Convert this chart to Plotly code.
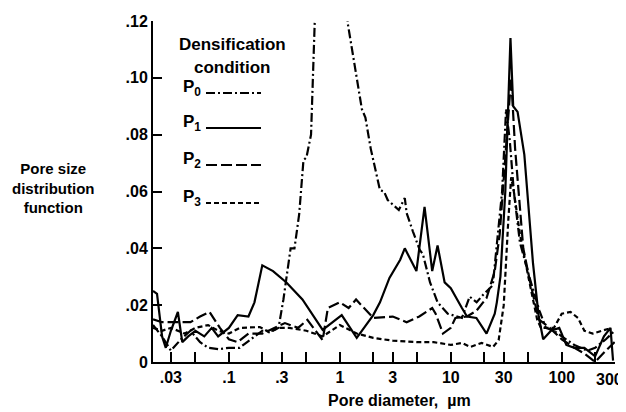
import plotly.graph_objects as go
import math

# ---------------- data ----------------
p0_x = [0.0207, 0.025, 0.03, 0.037, 0.045, 0.055, 0.065, 0.08, 0.1, 0.125, 0.14, 0.17, 0.2, 0.25, 0.28, 0.31,
        0.36, 0.39, 0.43, 0.47, 0.5, 0.55, 0.6, 0.8, 1.0, 1.18, 1.58, 1.7, 1.9, 2.3, 2.5, 2.7, 3.4, 3.85, 4.0, 4.55,
        5.25, 5.6, 6.5, 7.6, 9.4, 12.6, 14.8, 17.1, 19.4, 23.9, 26.5, 29.0, 31.5, 34.0, 37.0, 42.0, 51.0, 63.0,
        72.0, 85.0, 100.0, 130.0, 170.0, 200.0, 250.0, 300.0]
p0_y = [0.013, 0.009, 0.004, 0.008, 0.011, 0.007, 0.005, 0.0045, 0.005, 0.005, 0.0065, 0.009, 0.011, 0.011, 0.012, 0.022,
        0.040, 0.040, 0.052, 0.071, 0.072, 0.080, 0.125, 0.16, 0.15, 0.119, 0.089, 0.086, 0.075, 0.0605, 0.060, 0.057, 0.0535, 0.0577, 0.0524,
        0.046, 0.0394, 0.038, 0.028, 0.021, 0.017, 0.0155, 0.023, 0.021, 0.0235, 0.027, 0.045, 0.060, 0.089, 0.078, 0.060, 0.042, 0.030, 0.018,
        0.012, 0.011, 0.009, 0.006, 0.004, 0.005, 0.008, 0.011]

p1_x = [0.0207, 0.0225, 0.025, 0.027, 0.03, 0.0347, 0.038, 0.043, 0.05, 0.06, 0.07, 0.08, 0.1, 0.12, 0.15, 0.17, 0.2,
        0.25, 0.33, 0.46, 0.7, 1.04, 1.42, 2.0, 2.3, 2.8, 3.5, 3.85, 4.9, 5.8, 6.8, 7.6, 8.8, 10.0, 12.6, 14.0, 17.0,
        21.0, 24.9, 26.0, 28.0, 31.0, 34.5, 36.5, 40.0, 46.0, 55.0, 62.0, 68.0, 80.0, 95.0, 110.0, 130.0, 160.0, 200.0,
        240.0, 275.0, 290.0]
p1_y = [0.025, 0.024, 0.009, 0.005, 0.011, 0.0176, 0.007, 0.009, 0.011, 0.009, 0.012, 0.009, 0.012, 0.0165, 0.016, 0.021, 0.034,
        0.032, 0.028, 0.022, 0.0113, 0.0165, 0.0085, 0.0165, 0.021, 0.0296, 0.036, 0.040, 0.032, 0.0546, 0.032, 0.041, 0.028, 0.026, 0.019, 0.016, 0.0155,
        0.010, 0.017, 0.021, 0.030, 0.060, 0.114, 0.090, 0.088, 0.073, 0.035, 0.016, 0.008, 0.011, 0.012, 0.006, 0.005, 0.005, 0.002,
        0.009, 0.012, 0.0005]

p2_x = [0.0207, 0.025, 0.03, 0.04, 0.045, 0.055, 0.067, 0.083, 0.1, 0.12, 0.15, 0.2, 0.26, 0.32, 0.42, 0.51, 0.7, 0.78,
        1.0, 1.2, 1.4, 2.0, 3.0, 4.0, 5.2, 6.8, 7.3, 8.5, 10.0, 11.0, 14.0, 17.0, 21.0, 24.9, 27.6, 31.0, 33.5, 35.0,
        38.0, 45.0, 52.0, 62.0, 78.0, 100.0, 130.0, 160.0, 200.0, 250.0, 300.0]
p2_y = [0.015, 0.014, 0.014, 0.014, 0.014, 0.016, 0.0176, 0.012, 0.008, 0.007, 0.010, 0.010, 0.012, 0.0137, 0.012, 0.0148, 0.0077, 0.019,
        0.021, 0.019, 0.022, 0.0155, 0.016, 0.014, 0.016, 0.019, 0.017, 0.010, 0.012, 0.0155, 0.016, 0.018, 0.0225, 0.032, 0.045, 0.070, 0.090, 0.100,
        0.075, 0.040, 0.028, 0.015, 0.012, 0.008, 0.005, 0.003, 0.000, 0.004, 0.007]

p3_x = [0.0207, 0.025, 0.03, 0.04, 0.05, 0.065, 0.08, 0.1, 0.125, 0.19, 0.23, 0.28, 0.35, 0.5, 0.7, 1.0, 1.42, 2.0,
        3.0, 5.0, 7.0, 10.0, 12.6, 15.0, 19.0, 24.0, 27.0, 30.0, 33.0, 35.0, 37.0, 42.0, 50.0, 60.0, 65.0, 85.0, 100.0,
        120.0, 140.0, 160.0, 190.0, 230.0, 280.0]
p3_y = [0.012, 0.011, 0.012, 0.010, 0.012, 0.013, 0.011, 0.010, 0.012, 0.0123, 0.0105, 0.012, 0.012, 0.011, 0.009, 0.013, 0.010, 0.0085,
        0.0075, 0.007, 0.007, 0.006, 0.0067, 0.0053, 0.0067, 0.0053, 0.0077, 0.020, 0.050, 0.065, 0.060, 0.045, 0.030, 0.015, 0.012, 0.012, 0.017,
        0.0176, 0.0155, 0.011, 0.010, 0.011, 0.012]

series_names = ["P<sub>0</sub>", "P<sub>1</sub>", "P<sub>2</sub>", "P<sub>3</sub>"]
x_tickvals = [0.03, 0.1, 0.3, 1, 3, 10, 30, 100]
x_ticktext = [".03", ".1", ".3", "1", "3", "10", "30", "100"]
x_last_tick = 300
x_last_text = "300"
x_minorvals = [0.05, 0.2, 0.5, 2, 5, 20, 50, 200, 300]
y_tickvals = [0, 0.02, 0.04, 0.06, 0.08, 0.10, 0.12]
y_ticktext = ["0", ".02", ".04", ".06", ".08", ".10", ".12"]

# ---------------- style ----------------
FONT = "Liberation Sans, Arial, sans-serif"
dashes = ["9px,3px,2px,3px", "solid", "11px,4px", "5px,3px"]
OFF = 8                      # page body margin in the browser
W, H = 626 - OFF, 412 - OFF  # figure size so it fits in the window
# plot area in screen pixels: x 153..615, y 21..362
L, T = 153 - OFF, 21 - OFF
R, B = W - (615 - OFF), H - (362 - OFF)

fig = go.Figure()
for xs, ys, name, d in zip([p0_x, p1_x, p2_x, p3_x], [p0_y, p1_y, p2_y, p3_y], series_names, dashes):
    fig.add_trace(go.Scatter(x=xs, y=ys, mode="lines", name=name,
                             line=dict(color="black", width=2.2, dash=d), showlegend=False))

def px(sx):  # screen x -> paper
    return (sx - 153) / (615 - 153)

def py(sy):  # screen y -> paper
    return (362 - sy) / (362 - 21)

ann = []
for txt, sy in [("Densification", 44), ("condition", 68)]:
    ann.append(dict(text=txt, x=px(232), y=py(sy), xref="paper", yref="paper", showarrow=False,
                    font=dict(family=FONT, size=17, color="black", weight="bold"),
                    xanchor="center", yanchor="middle"))
legend_y = [88, 123, 160, 198]
for name, ly, d in zip(series_names, legend_y, dashes):
    ann.append(dict(text=name, x=px(181), y=py(ly), xref="paper", yref="paper", showarrow=False,
                    font=dict(family=FONT, size=17, color="black", weight="bold"), xanchor="left", yanchor="middle"))
    fig.add_shape(type="line", xref="paper", yref="paper", x0=px(206), x1=px(261), y0=py(ly + 5), y1=py(ly + 5),
                  line=dict(color="black", width=2.2, dash=d))

ann.append(dict(text="Pore size<br>distribution<br>function", x=px(53), y=py(188), xref="paper", yref="paper",
                showarrow=False, font=dict(family=FONT, size=15, color="black", weight="bold"),
                xanchor="center", yanchor="middle", align="center"))
ann.append(dict(text="Pore diameter,  \u00b5m", x=px(399), y=py(401), xref="paper", yref="paper", showarrow=False,
                font=dict(family=FONT, size=16, color="black", weight="bold"), xanchor="center", yanchor="middle"))
# last x tick label, nudged left so it stays inside the window
ann.append(dict(text=x_last_text, x=math.log10(x_last_tick), xref="x", y=py(379), yref="paper", showarrow=False,
                xshift=-5, font=dict(family=FONT, size=16, color="black", weight="bold"),
                xanchor="center", yanchor="middle"))

fig.update_layout(
    width=W, height=H, margin=dict(l=L, r=R, t=T, b=B, autoexpand=False),
    paper_bgcolor="white", plot_bgcolor="white",
    annotations=ann,
    font=dict(family=FONT, size=16, color="black", weight="bold"),
    xaxis=dict(type="log", range=[math.log10(0.0207), math.log10(302)], showgrid=False, zeroline=False,
               showline=True, linecolor="black", linewidth=2, ticks="inside", ticklen=10, tickwidth=2,
               tickcolor="black", tickvals=x_tickvals, ticktext=x_ticktext,
               minor=dict(tickvals=x_minorvals, ticks="inside", ticklen=10, tickwidth=2, tickcolor="black",
                          showgrid=False),
               tickfont=dict(family=FONT, size=16, color="black", weight="bold")),
    yaxis=dict(range=[0, 0.12], showgrid=False, zeroline=False, showline=True, linecolor="black", linewidth=2,
               ticks="inside", ticklen=9, tickwidth=2, tickcolor="black", tickvals=y_tickvals, ticktext=y_ticktext,
               tickfont=dict(family=FONT, size=16, color="black", weight="bold")),
)
fig.write_html("out.html")
